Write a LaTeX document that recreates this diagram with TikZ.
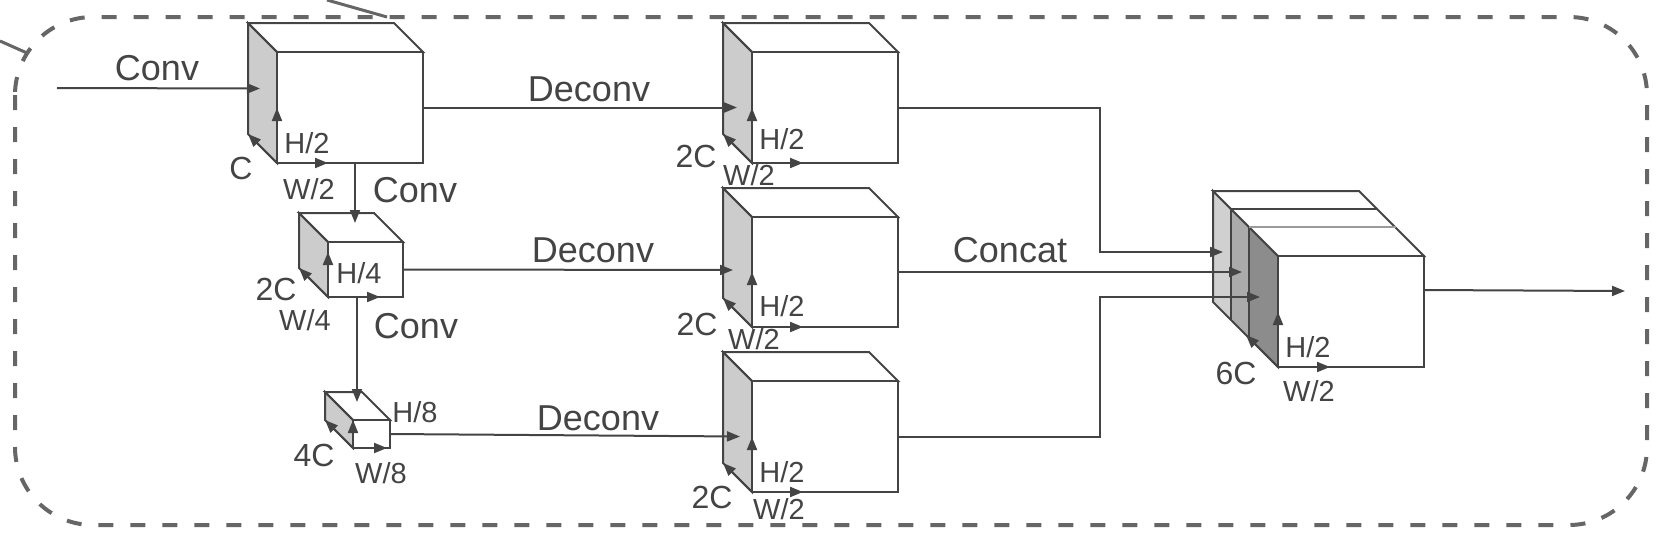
\documentclass[tikz,border=0pt]{standalone}
\usepackage{fontspec}
\setmainfont{Liberation Sans}
\usetikzlibrary{arrows.meta}

\definecolor{ink}{HTML}{444444}
\definecolor{framegray}{HTML}{666666}
\definecolor{sidegray}{HTML}{CCCCCC}
\definecolor{catA}{HTML}{D0D0D0}
\definecolor{catB}{HTML}{ABABAB}
\definecolor{catC}{HTML}{8C8C8C}
\definecolor{thinline}{HTML}{9A9A9A}

\tikzset{
  face/.style={draw=ink, line width=1pt},
  side/.style={face, fill=sidegray},
  front/.style={face, fill=white, inner sep=0pt, outer sep=0pt, anchor=north west},
  conn/.style={draw=ink, line width=1pt, -{Triangle[length=6.5pt,width=5pt]}},
  opname/.style={font=\fontsize{18}{20}\selectfont, text=ink, inner sep=0pt},
  chname/.style={font=\fontsize{16}{18}\selectfont, text=ink, inner sep=0pt},
  dimname/.style={font=\fontsize{14.5}{16}\selectfont, text=ink, inner sep=0pt},
  frame/.style={draw=framegray, line width=2pt, dash pattern=on 7.5pt off 8.5pt, rounded corners=39pt},
}

% feature map: name, x, y (front top left), width, height, depth
\newcommand{\fmap}[6]{%
  \filldraw[side] ({#2-#6},{#3-#6}) -- (#2,#3) -- (#2,{#3+#5}) -- ({#2-#6},{#3+#5-#6}) -- cycle;
  \draw[face] ({#2-#6},{#3-#6}) -- ({#2+#4-#6},{#3-#6}) -- ({#2+#4},#3) -- (#2,#3) -- cycle;
  \node[front, minimum width=#4*0.5pt, minimum height=#5*0.5pt] (#1) at (#2,#3) {};
}

\begin{document}
\begin{tikzpicture}[x=0.5pt,y=-0.5pt]
    \useasboundingbox (0,0) rectangle (1665,541);

    % frame
    \draw[frame] (15,17) rectangle (1647,525);
    \draw[draw=framegray, line width=1.5pt] (0,41) -- (27,53);
    \draw[draw=framegray, line width=1.5pt] (327,0) -- (387,17);

    % encoder
    \fmap{c1}{277}{52}{146}{111}{29}
    \fmap{c2}{328}{242}{75}{55}{29}
    \fmap{c3}{353}{420}{37}{28}{28}

    % deconv branches
    \fmap{d1}{752}{52}{146}{111}{29}
    \fmap{d2}{752}{217}{146}{110}{29}
    \fmap{d3}{752}{381}{146}{111}{29}

    % concatenated map
    \fill[catA] (1213,191) -- (1231,209) -- (1231,320) -- (1213,302) -- cycle;
    \fill[catB] (1231,209) -- (1249,227) -- (1249,338) -- (1231,320) -- cycle;
    \fill[catC] (1249,227) -- (1278,256) -- (1278,367) -- (1249,338) -- cycle;
    \draw[face] (1213,191) -- (1278,256) -- (1278,367) -- (1213,302) -- cycle;
    \draw[face] (1231,209) -- (1231,320);
    \draw[face] (1249,227) -- (1249,338);
    \filldraw[face, fill=white] (1213,191) -- (1359,191) -- (1424,256) -- (1278,256) -- cycle;
    \draw[face] (1231,209) -- (1377,209);
    \draw[draw=thinline, line width=1pt] (1249,227) -- (1396,227);
    \node[front, minimum width=73pt, minimum height=55.5pt] (cat) at (1278,256) {};

    % size arrows
    \foreach \m/\h/\w/\d in {c1/55/51/29, c2/45/52/29, c3/28/34/28, d1/55/51/29, d2/55/51/29, d3/55/51/29} {
        \draw[conn] (\m.south west) -- ++(0,-\h);
        \draw[conn] (\m.south west) -- ++(\w,0);
        \draw[conn] (\m.south west) -- ++(-\d,-\d);
    }
    \draw[conn] (cat.south west) -- ++(0,-55);
    \draw[conn] (cat.south west) -- ++(52,0);
    \draw[conn] (cat.south west) -- ++(-32,-32);

    % connectors
    \coordinate (in) at (57,88);
    \coordinate (out) at (1625,291);
    \coordinate (catin2) at ([xshift=-18pt]cat.west);
    \draw[conn] (in) -- ([xshift=-8.5pt,yshift=9.5pt]c1.west);
    \draw[conn] ([xshift=39pt]c1.south west) -- ([xshift=13.5pt,yshift=9.5pt]c2.north west);
    \draw[conn] ([xshift=14.5pt]c2.south west) -- ([xshift=2pt,yshift=9pt]c3.north west);
    \draw[conn] (c1.east) -- ([xshift=-7.5pt]d1.west);
    \draw[conn] (c2.east) -- ([xshift=-9.5pt,yshift=1pt]d2.west);
    \draw[conn] (c3.east) -- ([xshift=-6pt]d3.west);
    \draw[conn] (d1.east) -- ++(202,0) |- ([xshift=-27.5pt,yshift=2pt]cat.north west);
    \draw[conn] (d2.east) -- (d2.east -| catin2);
    \draw[conn] (d3.east) -- ++(202,0) |- ([xshift=-9pt,yshift=-20.5pt]cat.north west);
    \draw[conn] ([yshift=-17pt]cat.north east) -- (out);

    % labels
    \node[opname] (convA) at (157,68) {Conv};
    \node[opname] (convB) at (415,190) {Conv};
    \node[opname] (convC) at (416,326) {Conv};
    \node[opname] (deconvA) at (589,89) {Deconv};
    \node[opname] (deconvB) at (593,250) {Deconv};
    \node[opname] (deconvC) at (598,418) {Deconv};
    \node[opname] (concat) at (1010,250) {Concat};

    \node[chname] (chA) at (241,168) {C};
    \node[dimname] (hA) at (307,143) {H/2};
    \node[dimname] (wA) at (309,189) {W/2};
    \node[chname] (chB) at (276,289) {2C};
    \node[dimname] (hB) at (359,273) {H/4};
    \node[dimname] (wB) at (305,320) {W/4};
    \node[chname] (chC) at (314,455) {4C};
    \node[dimname] (hC) at (415,412) {H/8};
    \node[dimname] (wC) at (381,473) {W/8};

    \node[chname] (chD) at (696,156) {2C};
    \node[dimname] (hD) at (782,139) {H/2};
    \node[dimname] (wD) at (749,175) {W/2};
    \node[chname] (chE) at (697,324) {2C};
    \node[dimname] (hE) at (782,306) {H/2};
    \node[dimname] (wE) at (754,339) {W/2};
    \node[chname] (chF) at (712,497) {2C};
    \node[dimname] (hF) at (782,472) {H/2};
    \node[dimname] (wF) at (779,509) {W/2};

    \node[chname] (chG) at (1236,373) {6C};
    \node[dimname] (hG) at (1308,347) {H/2};
    \node[dimname] (wG) at (1309,391) {W/2};
\end{tikzpicture}
\end{document}
